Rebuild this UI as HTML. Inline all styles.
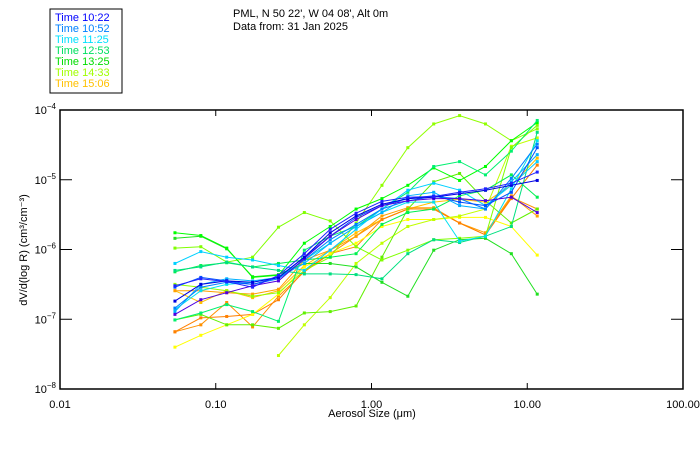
<!DOCTYPE html>
<html><head><meta charset="utf-8"><style>
body{margin:0;background:#fff;}
svg{display:block;font-family:"Liberation Sans",sans-serif;}
</style></head><body>
<svg id="chart" width="700" height="450" viewBox="0 0 700 450">
<rect width="700" height="450" fill="#fff"/>
<g>
<rect x="50" y="9" width="72" height="84" fill="#fff" stroke="#000" stroke-width="1"/>
<text x="55" y="21" font-size="11" fill="#0000ff">Time 10:22</text>
<text x="55" y="32" font-size="11" fill="#0080ff">Time 10:52</text>
<text x="55" y="43" font-size="11" fill="#00e0ff">Time 11:25</text>
<text x="55" y="54" font-size="11" fill="#00e060">Time 12:53</text>
<text x="55" y="65" font-size="11" fill="#00dd00">Time 13:25</text>
<text x="55" y="76" font-size="11" fill="#a0ff00">Time 14:33</text>
<text x="55" y="87" font-size="11" fill="#ffc000">Time 15:06</text>
</g>
<text x="233" y="17" font-size="11">PML, N 50 22', W 04 08', Alt 0m</text>
<text x="233" y="30" font-size="11">Data from: 31 Jan 2025</text>
<g id="series"></g>
<g id="axes"></g>
<text x="372" y="417" font-size="11" text-anchor="middle">Aerosol Size (μm)</text>
<text transform="translate(27,250) rotate(-90)" font-size="11" text-anchor="middle">dV/d(log R) (cm³/cm⁻³)</text>
</svg>
<script>
const sizes = [0.0547,0.0802,0.1176,0.1724,0.2527,0.3705,0.5431,0.7962,1.167,1.711,2.509,3.678,5.392,7.905,11.59];
const xTicks = [0.01,0.1,1,10,100];
const xTickLabels = ["0.01","0.10","1.00","10.00","100.00"];
const yTickExps = [-4,-5,-6,-7,-8];
const seriesColors = ["#2020ff","#0000e0","#5000e0","#0050ff","#0080ff","#00d0ff","#00b0ff","#00e0f0","#00e080","#00f070","#00ff00","#20e020","#00f050","#80ff00","#90ff00","#60f000","#c0ff00","#ffff00","#ff8000","#ffa000","#ffc000","#ff9000"];
// log10 of dV/d(log R)
const s1=[-6.52,-6.42,-6.46,-6.54,-6.37,-6.06,-5.71,-5.48,-5.31,-5.25,-5.24,-5.18,-5.13,-5.05,-4.89];
const s2=[-6.74,-6.50,-6.45,-6.47,-6.40,-6.11,-5.76,-5.52,-5.35,-5.27,-5.25,-5.20,-5.15,-5.08,-5.01];
const s3=[-6.93,-6.72,-6.62,-6.52,-6.45,-6.13,-5.81,-5.57,-5.37,-5.30,-5.27,-5.27,-5.30,-5.25,-5.47];
const s4=[-6.54,-6.40,-6.45,-6.50,-6.40,-6.11,-5.81,-5.54,-5.37,-5.27,-5.23,-5.32,-5.37,-5.18,-4.54];
const s5=[-6.84,-6.54,-6.47,-6.50,-6.42,-6.15,-5.86,-5.64,-5.42,-5.30,-5.24,-5.27,-5.42,-4.98,-4.49];
const s6=[-6.20,-6.03,-6.11,-6.15,-6.23,-6.30,-6.01,-5.71,-5.42,-5.15,-5.05,-5.15,-5.37,-5.08,-4.74];
const s7=[-6.89,-6.50,-6.42,-6.45,-6.40,-6.20,-5.91,-5.67,-5.47,-5.23,-5.18,-5.37,-5.42,-5.03,-4.64];
const s8=[-6.86,-6.59,-6.50,-6.47,-6.40,-6.15,-5.91,-5.67,-5.47,-5.32,-5.32,-5.88,-5.81,-5.13,-4.44];
const s9=[-6.30,-6.25,-6.18,-6.25,-6.30,-6.35,-6.35,-6.36,-6.42,-6.06,-5.86,-5.90,-5.81,-5.67,-4.32];
const s10=[-7.01,-6.91,-6.79,-6.89,-7.03,-6.01,-5.81,-5.67,-5.42,-5.18,-4.81,-4.74,-4.93,-4.59,-4.15];
const s11=[-5.76,-5.80,-5.98,-6.40,-6.37,-5.91,-5.67,-5.42,-5.27,-5.08,-4.83,-5.01,-4.81,-4.44,-4.18];
const s12=[-5.84,-5.81,-5.99,-6.39,-6.36,-6.20,-6.20,-6.25,-6.47,-6.67,-6.01,-5.86,-5.84,-6.06,-6.64];
const s13=[-6.32,-6.23,-6.19,-6.25,-6.20,-6.15,-6.11,-6.06,-5.64,-5.47,-5.42,-5.23,-5.15,-4.93,-5.25];
const s14=[-5.98,-5.96,-6.18,-6.11,-5.68,-5.47,-5.59,-5.96,-6.15,-6.01,-5.86,-5.84,-5.81,-4.54,-4.22];
const s15=[-6.50,-6.54,-6.59,-6.67,-6.62,-6.30,-6.11,-5.62,-5.08,-4.54,-4.20,-4.08,-4.20,-4.44,-4.27];
const s16=[-7.01,-6.93,-7.08,-7.08,-7.13,-6.91,-6.89,-6.81,-6.11,-5.42,-5.03,-4.91,-5.30,-5.62,-5.42];
const s17=[null,null,null,null,-7.52,-7.08,-6.69,-6.20,-5.91,-5.67,-5.57,-5.52,-5.42,-4.52,-4.40];
const s18=[-7.40,-7.23,-7.08,-6.93,-6.64,-6.25,-6.06,-5.91,-5.67,-5.57,-5.57,-5.54,-5.54,-5.67,-6.08];
const s19=[-7.18,-6.98,-6.96,-6.93,-6.72,-6.30,-6.06,-5.96,-5.57,-5.42,-5.42,-5.62,-5.79,-5.27,-4.79];
const s20=[-6.59,-6.59,-6.62,-6.64,-6.57,-6.15,-6.01,-5.81,-5.52,-5.40,-5.40,-5.62,-5.76,-5.23,-5.52];
const s21=[-6.59,-6.76,-6.59,-6.69,-6.59,-6.23,-6.01,-5.76,-5.57,-5.42,-5.32,-5.28,-5.32,-5.08,-4.69];
const s22=[-7.18,-7.08,-6.76,-7.11,-6.67,-6.32,-6.06,-5.81,-5.57,-5.42,-5.42,-5.62,-5.79,-5.25,-5.42];
const allSeries=[s1,s2,s3,s4,s5,s6,s7,s8,s9,s10,s11,s12,s13,s14,s15,s16,s17,s18,s19,s20,s21,s22];

const L=60,R=683,T=110,B=389;
function xs(v){return L+(Math.log10(v)+2)/4*(R-L);}
function ys(e){return T+(-4-e)/4*(B-T);}
const NS="http://www.w3.org/2000/svg";
function mk(tag,attrs,parent){const el=document.createElementNS(NS,tag);for(const k in attrs)el.setAttribute(k,attrs[k]);parent.appendChild(el);return el;}
const sg=document.getElementById('series');
for(let i=allSeries.length-1;i>=0;i--){
  const d=allSeries[i];const c=seriesColors[i];
  const g=mk('g',{},sg);
  
  
  let pts=[];
  d.forEach((e,j)=>{if(e!==null)pts.push(xs(sizes[j]).toFixed(1)+','+ys(e).toFixed(1));});
  const pl=mk('polyline',{points:pts.join(' '),fill:'none',stroke:c,'stroke-width':1},g);
  
  
  d.forEach((e,j)=>{if(e===null)return;
    const r=mk('rect',{x:xs(sizes[j])-1.5,y:ys(e)-1.5,width:3,height:3,fill:c},g);
    
    
  });
}
const ag=document.getElementById('axes');
const frame=mk('rect',{x:L,y:T,width:R-L,height:B-T,fill:'none',stroke:'#000','stroke-width':1.5},ag);


xTicks.forEach((v,i)=>{const x=xs(v);
  mk('line',{x1:x,y1:B,x2:x,y2:B-6,stroke:'#000'},ag);
  mk('line',{x1:x,y1:T,x2:x,y2:T+6,stroke:'#000'},ag);
  const t=mk('text',{x:x,y:B+19,'font-size':11,'text-anchor':'middle'},ag);
  t.textContent=xTickLabels[i];
  
  
});
yTickExps.forEach(e=>{const y=ys(e);
  mk('line',{x1:L,y1:y,x2:L+12,y2:y,stroke:'#000'},ag);
  mk('line',{x1:R,y1:y,x2:R-12,y2:y,stroke:'#000'},ag);
  const t=mk('text',{x:L-4,y:y+4,'font-size':11,'text-anchor':'end'},ag);
  
  
  const a=mk('tspan',{},t);a.textContent='10';
  const b=mk('tspan',{dy:-5,'font-size':8},t);b.textContent=String(e).replace('-','−');
});
</script>
</body></html>
